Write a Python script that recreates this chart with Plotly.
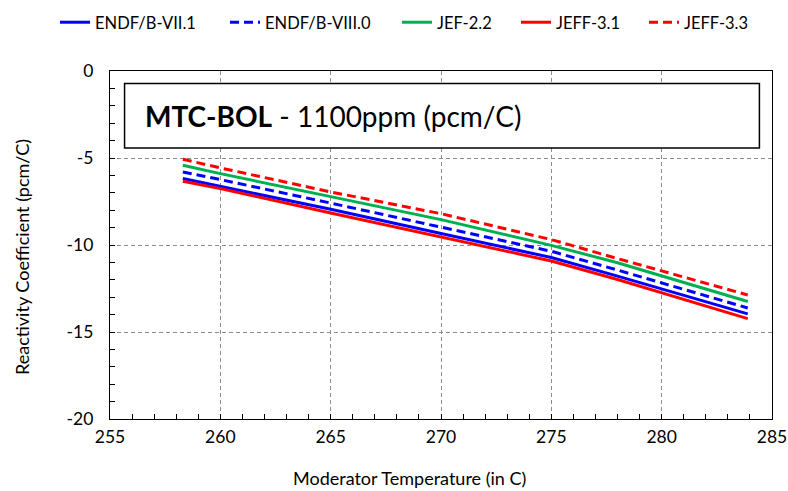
import plotly.graph_objects as go

# Data
temperature = [258.3, 260, 265, 270, 275, 278, 283.9]
endf_b_vii_1 = [-6.18, -6.63, -7.95, -9.34, -10.72, -11.79, -13.96]
endf_b_viii_0 = [-5.80, -6.24, -7.59, -8.97, -10.36, -11.44, -13.62]
jef_2_2 = [-5.42, -5.90, -7.22, -8.54, -10.02, -11.02, -13.25]
jeff_3_1 = [-6.34, -6.76, -8.16, -9.54, -10.92, -11.98, -14.23]
jeff_3_3 = [-5.07, -5.57, -6.95, -8.20, -9.69, -10.78, -12.87]

x_ticks = [255, 260, 265, 270, 275, 280, 285]
y_ticks = [0, -5, -10, -15, -20]
y_tick_labels = ["0", "-5", "-10", "-15", "-20"]

x_title = "Moderator Temperature (in C)"
y_title = "Reactivity Coefficient (pcm/C)"

FONT = "Lato"
W, H = 788, 491

series = [
    ("ENDF/B-VII.1", endf_b_vii_1, "#0000FF", "solid"),
    ("ENDF/B-VIII.0", endf_b_viii_0, "#0000FF", "9px,5px"),
    ("JEF-2.2", jef_2_2, "#00B050", "solid"),
    ("JEFF-3.1", jeff_3_1, "#FF0000", "solid"),
    ("JEFF-3.3", jeff_3_3, "#FF0000", "9px,5px"),
]
# left pixel where each legend entry's line begins
legend_starts = [65, 235, 407, 526, 654]

fig = go.Figure()
legend_layout = {}
for i, ((name, vals, color, dash), lx) in enumerate(zip(series, legend_starts)):
    key = "legend" if i == 0 else f"legend{i + 1}"
    fig.add_trace(go.Scatter(
        x=temperature, y=vals, mode="lines", name=name,
        line=dict(color=color, width=3, dash=dash), legend=key,
    ))
    legend_layout[key] = dict(
        orientation="h", xref="container", yref="container",
        x=(lx - 10) / W, xanchor="left", y=1 - 5 / H, yanchor="top",
        font=dict(size=16.5, family=FONT, color="black"),
        bgcolor="rgba(0,0,0,0)",
    )

fig.update_layout(
    width=W, height=H,
    margin=dict(l=110, r=16, t=71, b=72),
    paper_bgcolor="white", plot_bgcolor="white",
    font=dict(family=FONT, size=17, color="black"),
    showlegend=True,
    xaxis=dict(
        range=[255, 285], tickvals=x_ticks, automargin=False,
        showline=True, linecolor="black", linewidth=1.3, mirror=True,
        ticks="inside", ticklen=5, tickcolor="black",
        minor=dict(dtick=1, ticks="inside", ticklen=5, tickcolor="black", showgrid=False),
        showgrid=True, gridcolor="#8c8c8c", griddash="4px,3px", gridwidth=1,
        zeroline=False, ticklabelstandoff=2,
        tickfont=dict(size=17.5, family=FONT),
    ),
    yaxis=dict(
        range=[-20, 0], tickvals=y_ticks, ticktext=y_tick_labels, automargin=False,
        showline=True, linecolor="black", linewidth=1.3, mirror=True,
        ticks="inside", ticklen=5, tickcolor="black",
        minor=dict(dtick=1, ticks="inside", ticklen=5, tickcolor="black", showgrid=False),
        showgrid=True, gridcolor="#8c8c8c", griddash="4px,3px", gridwidth=1,
        zeroline=False, ticklabelstandoff=12,
        tickfont=dict(size=17.5, family=FONT),
    ),
    **legend_layout,
)

# Axis titles (placed as in the reference, slightly off-centre)
fig.add_annotation(xref="paper", yref="paper", x=(409 - 110) / 662, y=-(478 - 419) / 348,
                   xanchor="center", yanchor="middle", text=x_title, showarrow=False,
                   font=dict(size=18, family=FONT, color="black"))
fig.add_annotation(xref="paper", yref="paper", x=-(110 - 22) / 662, y=(419 - 257) / 348,
                   xanchor="center", yanchor="middle", text=y_title, showarrow=False,
                   textangle=-90, font=dict(size=18, family=FONT, color="black"))

# Title box inside the plot
fig.add_shape(type="rect", xref="x", yref="y",
              x0=255.66, x1=284.43, y0=-4.43, y1=-0.72,
              line=dict(color="black", width=1.5), fillcolor="white", layer="above")
fig.add_annotation(xref="x", yref="y", x=256.5, y=-2.6, xanchor="left", yanchor="middle",
                   text="<b>MTC-BOL</b> - 1100ppm (pcm/C)", showarrow=False,
                   font=dict(size=28, family=FONT, color="black"))

fig.write_html("out.html")
